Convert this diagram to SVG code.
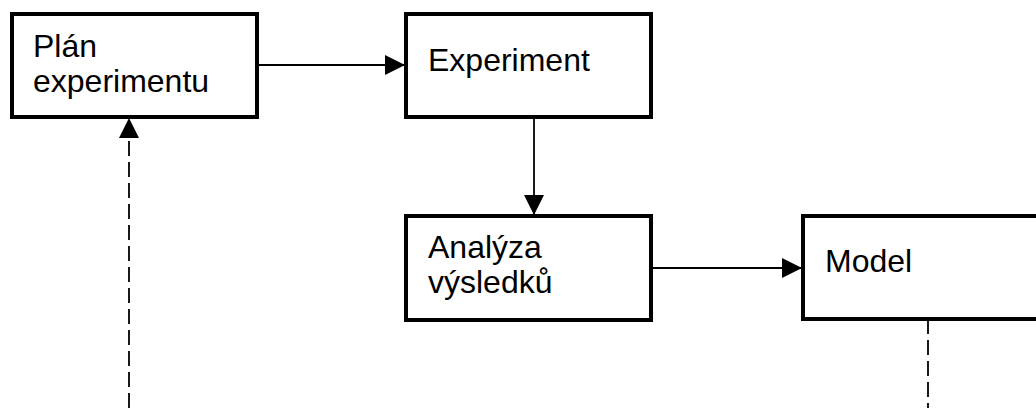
<svg xmlns="http://www.w3.org/2000/svg" width="1036" height="408" viewBox="0 0 1036 408">
<style>
.box{fill:#fff;stroke:#000;stroke-width:4}
.t{font-family:"Liberation Sans",Arial,sans-serif;font-size:32px;fill:#000}
.c{stroke:#000;stroke-width:1.8;fill:none}
.d{stroke:#000;stroke-width:1.8;fill:none;stroke-dasharray:15 6}
</style>
<defs>
<marker id="ah" markerWidth="20" markerHeight="20" viewBox="0 0 20 20" refX="19" refY="10" orient="auto" markerUnits="userSpaceOnUse">
<path d="M0,0 L20,10 L0,20 Z" fill="#000"/>
</marker>
</defs>
<g id="connectors">
<line class="c" x1="257" y1="65" x2="404" y2="65" marker-end="url(#ah)"/>
<line class="c" x1="534" y1="117" x2="534" y2="214" marker-end="url(#ah)"/>
<line class="c" x1="651" y1="268" x2="801" y2="268" marker-end="url(#ah)"/>
<line class="d" x1="928" y1="319" x2="928" y2="408"/>
<line class="d" x1="129" y1="408" x2="129" y2="119" marker-end="url(#ah)"/>
</g>
<g id="plan">
<rect class="box" x="12" y="14" width="245" height="103"/>
<text class="t" x="33" y="57">Plán</text>
<text class="t" x="33" y="92">experimentu</text>
</g>
<g id="experiment">
<rect class="box" x="406" y="14" width="245" height="103"/>
<text class="t" x="428" y="71">Experiment</text>
</g>
<g id="analyza">
<rect class="box" x="406" y="216" width="245" height="104"/>
<text class="t" x="428" y="258">Analýza</text>
<text class="t" x="428" y="293">výsledků</text>
</g>
<g id="model">
<rect class="box" x="803" y="216" width="245" height="103"/>
<text class="t" x="825" y="272">Model</text>
</g>
</svg>
